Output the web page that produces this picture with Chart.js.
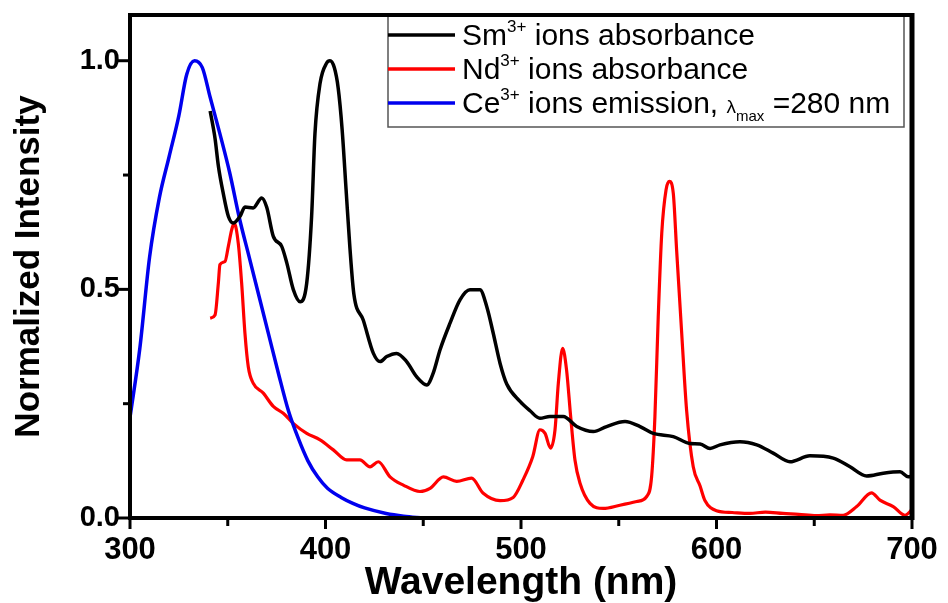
<!DOCTYPE html>
<html lang="en">
<head>
<meta charset="UTF-8">
<title>Normalized Intensity vs Wavelength</title>
<style>
  body { margin: 0; background: #fff; }
  #wrap { width: 948px; height: 603px; }
</style>
</head>
<body>
<div id="wrap"><canvas id="chart" width="948" height="603"></canvas></div>
<script src="https://cdn.jsdelivr.net/npm/chart.js"></script>
<script>
// Sm3+ absorbance (black)
const smWavelength = [341, 343.5, 345.2, 347.7, 350.3, 352.8, 356.3, 358.8, 363, 367.4, 369.9, 373.3, 377.6, 380.2, 383.5, 387, 390.4, 392.9, 394.6, 397.2, 400.6, 402.3, 404.5, 406.5, 408.5, 410.5, 412.5, 414.5, 419.3, 424.5, 427.9, 431.3, 436.4, 441.5, 446.6, 451.8, 455.1, 458.6, 463.7, 468.8, 473.9, 479, 482.5, 485.8, 489.3, 492.7, 499.5, 504.5, 509.7, 514.8, 521.6, 528.5, 537, 543.8, 553.2, 560.9, 567.7, 577.9, 586.4, 591.6, 596.7, 601.8, 612, 620.6, 629, 637.6, 647.8, 659.7, 668.3, 676.8, 685.3, 693.9, 698, 700];
const smValues = [0.89, 0.83, 0.77, 0.71, 0.66, 0.645, 0.66, 0.68, 0.678, 0.70, 0.68, 0.616, 0.594, 0.558, 0.50, 0.473, 0.514, 0.66, 0.84, 0.95, 0.995, 1.0, 0.985, 0.94, 0.85, 0.72, 0.59, 0.49, 0.433, 0.36, 0.342, 0.353, 0.36, 0.342, 0.309, 0.291, 0.317, 0.368, 0.426, 0.477, 0.499, 0.499, 0.462, 0.404, 0.338, 0.293, 0.255, 0.235, 0.218, 0.222, 0.222, 0.20, 0.189, 0.20, 0.211, 0.20, 0.185, 0.178, 0.163, 0.162, 0.152, 0.16, 0.167, 0.16, 0.142, 0.123, 0.136, 0.131, 0.112, 0.092, 0.098, 0.101, 0.09, 0.092];

// Nd3+ absorbance (red)
const ndWavelength = [341, 343.5, 345.2, 346, 348.6, 350.3, 352, 353.3, 355.4, 357.1, 358.8, 360.5, 363, 368.2, 373.3, 378.4, 383.5, 390.4, 397.2, 404, 410.8, 417.6, 422.8, 427, 433, 439.8, 448.3, 453.5, 460.3, 467.1, 474.7, 480.7, 489.3, 496, 501, 506, 509.7, 512.3, 515.1, 517.4, 519.1, 521.3, 523.3, 525.4, 527.6, 530.2, 535.3, 542.1, 550.6, 559.2, 564.3, 566.8, 568.5, 570.2, 572, 574.2, 575.9, 577.9, 579.6, 582.2, 584.7, 588.1, 591.6, 594, 600, 608, 617, 625, 634, 642, 651, 658, 664.8, 671.7, 679.3, 683.6, 690.4, 696.4, 699, 700];
const ndValues = [0.437, 0.444, 0.514, 0.554, 0.561, 0.594, 0.63, 0.645, 0.60, 0.514, 0.404, 0.331, 0.295, 0.273, 0.244, 0.229, 0.207, 0.185, 0.171, 0.149, 0.127, 0.127, 0.112, 0.123, 0.09, 0.072, 0.058, 0.065, 0.09, 0.08, 0.087, 0.054, 0.038, 0.045, 0.083, 0.134, 0.193, 0.185, 0.153, 0.193, 0.295, 0.371, 0.324, 0.222, 0.127, 0.076, 0.032, 0.021, 0.028, 0.036, 0.047, 0.09, 0.222, 0.44, 0.623, 0.718, 0.736, 0.71, 0.586, 0.404, 0.236, 0.112, 0.07, 0.039, 0.016, 0.012, 0.01, 0.013, 0.01, 0.008, 0.005, 0.007, 0.006, 0.025, 0.055, 0.039, 0.025, 0.006, 0.014, 0.02];

// Ce3+ emission (blue)
const ceWavelength = [300, 305, 310, 315, 320, 325, 329, 333, 337, 341, 346, 351, 356, 361, 366, 371, 376, 381, 386, 391, 396, 401, 408, 414, 420, 431, 440, 450];
const ceValues = [0.22, 0.37, 0.57, 0.70, 0.79, 0.88, 0.97, 1.0, 0.985, 0.92, 0.84, 0.755, 0.655, 0.57, 0.485, 0.40, 0.315, 0.235, 0.175, 0.125, 0.09, 0.065, 0.045, 0.032, 0.022, 0.01, 0.004, 0.0];

const xMajorTicks = [300, 400, 500, 600, 700];
const xMinorTicks = [350, 450, 550, 650];
const yMajorTicks = [0, 0.5, 1.0];
const yMinorTicks = [0.25, 0.75];

const FONT = '"Liberation Sans", Arial, sans-serif';
Chart.defaults.font.family = FONT;
Chart.defaults.color = '#000';

function toPoints(xs, ys) {
  return xs.map((x, i) => ({ x: x, y: ys[i] }));
}

// tick marks, frame and legend drawn on top
const framePlugin = {
  id: 'frame',
  afterDraw(chart) {
    const ctx = chart.ctx;
    const a = chart.chartArea;
    const xs = chart.scales.x;
    const ys = chart.scales.y;
    ctx.save();
    ctx.strokeStyle = '#000';
    ctx.lineCap = 'butt';
    ctx.lineWidth = 3;
    yMajorTicks.forEach(v => {
      const py = ys.getPixelForValue(v);
      ctx.beginPath(); ctx.moveTo(a.left - 12, py); ctx.lineTo(a.left, py); ctx.stroke();
    });
    yMinorTicks.forEach(v => {
      const py = ys.getPixelForValue(v);
      ctx.beginPath(); ctx.moveTo(a.left - 7, py); ctx.lineTo(a.left, py); ctx.stroke();
    });
    xMajorTicks.forEach(v => {
      const px = xs.getPixelForValue(v);
      ctx.beginPath(); ctx.moveTo(px, a.bottom); ctx.lineTo(px, a.bottom + 11); ctx.stroke();
    });
    xMinorTicks.forEach(v => {
      const px = xs.getPixelForValue(v);
      ctx.beginPath(); ctx.moveTo(px, a.bottom); ctx.lineTo(px, a.bottom + 8); ctx.stroke();
    });

    // legend box
    const lx = 388, ly = a.top, lw = 516, lh = 112;
    ctx.fillStyle = '#fff';
    ctx.fillRect(lx, ly, lw, lh);
    ctx.lineWidth = 1.5;
    ctx.strokeStyle = '#555';
    ctx.strokeRect(lx, ly, lw, lh);

    const rows = [
      { color: '#000000', y: 45, parts: [['Sm', 30, 0], ['3+', 17, -13], [' ions absorbance', 30, 0]] },
      { color: '#ff0000', y: 79, parts: [['Nd', 30, 0], ['3+', 17, -13], [' ions absorbance', 30, 0]] },
      { color: '#0000ee', y: 113, parts: [['Ce', 30, 0], ['3+', 17, -13], [' ions emission, ', 30, 0], ['\u03bb', 19, 0], ['max', 15, 8], [' =280 nm', 30, 0]] }
    ];
    rows.forEach(r => {
      ctx.strokeStyle = r.color;
      ctx.lineWidth = 3.5;
      ctx.beginPath(); ctx.moveTo(lx, r.y - 10); ctx.lineTo(455, r.y - 10); ctx.stroke();
      let tx = 462;
      ctx.fillStyle = '#000';
      ctx.textBaseline = 'alphabetic';
      ctx.textAlign = 'left';
      r.parts.forEach(p => {
        ctx.font = p[1] + 'px ' + FONT;
        ctx.fillText(p[0], tx, r.y + p[2]);
        tx += ctx.measureText(p[0]).width;
      });
    });

    // frame
    ctx.strokeStyle = '#000';
    ctx.lineWidth = 4;
    ctx.strokeRect(a.left, a.top, a.right - a.left, a.bottom - a.top);
    ctx.lineWidth = 5;
    ctx.beginPath(); ctx.moveTo(a.right, a.top - 2); ctx.lineTo(a.right, a.bottom + 2); ctx.stroke();
    ctx.restore();
  }
};

new Chart(document.getElementById('chart'), {
  type: 'line',
  data: {
    datasets: [
      { label: 'Sm3+ ions absorbance', data: toPoints(smWavelength, smValues), borderColor: '#000000', borderWidth: 3.5 },
      { label: 'Ce3+ ions emission', data: toPoints(ceWavelength, ceValues), borderColor: '#0000ee', borderWidth: 3.5 },
      { label: 'Nd3+ ions absorbance', data: toPoints(ndWavelength, ndValues), borderColor: '#ff0000', borderWidth: 3.2 }
    ]
  },
  options: {
    responsive: false,
    animation: false,
    layout: { padding: { top: 15, right: 36, left: 0, bottom: 0 } },
    elements: {
      point: { radius: 0 },
      line: { cubicInterpolationMode: 'monotone', fill: false }
    },
    plugins: {
      legend: { display: false },
      tooltip: { enabled: false }
    },
    scales: {
      x: {
        type: 'linear',
        min: 300,
        max: 700,
        afterFit: s => { s.height = 85; s.paddingLeft = 0; s.paddingRight = 0; },
        grid: { display: false, drawTicks: false },
        border: { display: false },
        ticks: {
          stepSize: 50,
          autoSkip: false,
          maxRotation: 0,
          padding: 14,
          font: { size: 31, weight: 'bold' },
          callback: v => xMajorTicks.includes(v) ? String(v) : ''
        },
        title: {
          display: true,
          text: 'Wavelength (nm)',
          font: { size: 39, weight: 'bold', lineHeight: 1.0 },
          padding: { top: 0, bottom: 0 }
        }
      },
      y: {
        min: 0,
        max: 1.1,
        afterFit: s => { s.width = 130; s.paddingTop = 0; s.paddingBottom = 0; },
        grid: { display: false, drawTicks: false },
        border: { display: false },
        ticks: {
          stepSize: 0.25,
          includeBounds: false,
          padding: 10,
          font: { size: 29, weight: 'bold' },
          callback: v => yMajorTicks.includes(v) ? v.toFixed(1) : ''
        },
        title: {
          display: true,
          text: 'Normalized Intensity',
          font: { size: 35, weight: 'bold', lineHeight: 1.2 },
          padding: { top: 8, bottom: 0 }
        }
      }
    }
  },
  plugins: [framePlugin]
});
</script>
</body>
</html>
